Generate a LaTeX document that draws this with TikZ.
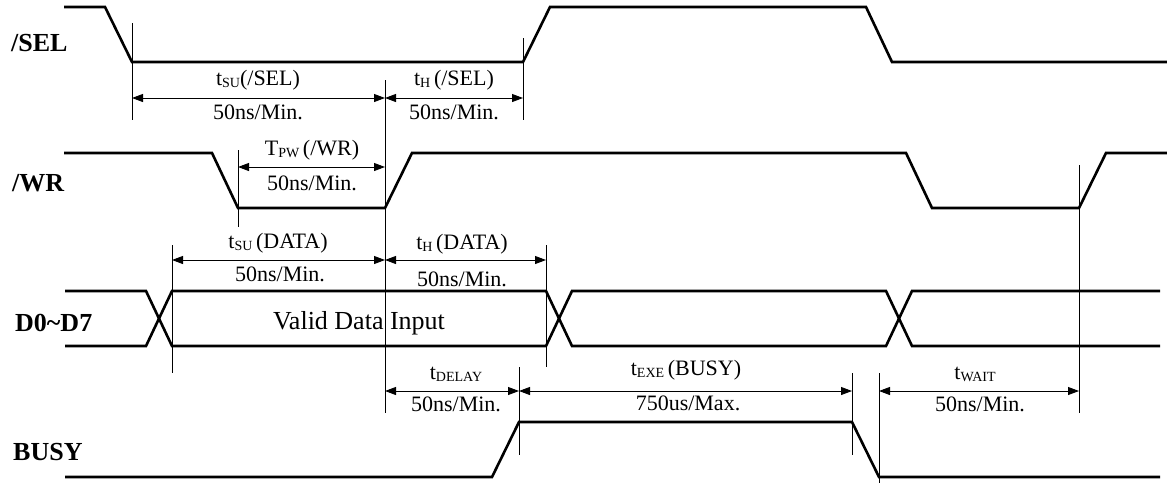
\documentclass[tikz,border=0pt]{standalone}
\usepackage{fontspec}
\setmainfont{Liberation Serif}
\usetikzlibrary{arrows.meta}
\newcommand{\lsub}[1]{\raisebox{-2pt}{\fontsize{14}{14}\selectfont #1}}
\begin{document}
\begin{tikzpicture}[x=1pt,y=-1pt,
  sig/.style={line width=2.6pt, line join=miter},
  dimline/.style={line width=0.9pt},
  meas/.style={line width=0.9pt, {Triangle[length=11pt,width=8pt]}-{Triangle[length=11pt,width=8pt]}},
  lbl/.style={font=\fontsize{22}{24}\selectfont, inner sep=0pt},
  big/.style={font=\fontsize{26}{28}\selectfont, inner sep=0pt},
  sname/.style={font=\bfseries\fontsize{26}{28}\selectfont, anchor=west, inner sep=0pt}]
\useasboundingbox (0,0) rectangle (1167,483);

% signal names
\node[sname] (nsel)  at (11,43)  {/SEL};
\node[sname] (nwr)   at (12,183) {/WR};
\node[sname] (nd)    at (15,323) {D0\textasciitilde D7};
\node[sname] (nbusy) at (13,452) {BUSY};

% waveforms
\draw[sig] (64,7) -- (105,7) -- (132,62) -- (523,62) -- (550,7) -- (866,7) -- (892,62) -- (1167,62);
\draw[sig] (64,153) -- (212,153) -- (238,208) -- (385,208) -- (412,153) -- (906,153) -- (932,208) -- (1079,208) -- (1106,153) -- (1167,153);
\draw[sig] (65,291) -- (146,291) -- (172,346) -- (546,346) -- (572,291) -- (886,291) -- (912,346) -- (1160,346);
\draw[sig] (65,346) -- (146,346) -- (172,291) -- (546,291) -- (572,346) -- (886,346) -- (912,291) -- (1160,291);
\draw[sig] (65,477) -- (492,477) -- (519,422) -- (852,422) -- (879,477) -- (1160,477);

% reference coordinates
\coordinate (v132t) at (132,23);  \coordinate (v132b) at (132,120);
\coordinate (v523t) at (523,38);  \coordinate (v523b) at (523,120);
\coordinate (v385t) at (385,80);  \coordinate (v385b) at (385,413);
\coordinate (v238t) at (238,150); \coordinate (v238b) at (238,227);
\coordinate (v172t) at (172,245); \coordinate (v172b) at (172,373);
\coordinate (v546t) at (546,245); \coordinate (v546b) at (546,367);
\coordinate (v519t) at (519,367); \coordinate (v519b) at (519,455);
\coordinate (v852t) at (852,373); \coordinate (v852b) at (852,455);
\coordinate (v879t) at (879,373); \coordinate (v879b) at (879,483);
\coordinate (v1079t) at (1079,165); \coordinate (v1079b) at (1079,413);

\draw[dimline] (v132t) -- (v132b);
\draw[dimline] (v523t) -- (v523b);
\draw[dimline] (v385t) -- (v385b);
\draw[dimline] (v238t) -- (v238b);
\draw[dimline] (v172t) -- (v172b);
\draw[dimline] (v546t) -- (v546b);
\draw[dimline] (v519t) -- (v519b);
\draw[dimline] (v852t) -- (v852b);
\draw[dimline] (v879t) -- (v879b);
\draw[dimline] (v1079t) -- (v1079b);

% measurement arrows
\draw[meas] (132,98) -- (385,98);
\draw[meas] (385,98) -- (523,98);
\draw[meas] (238,167) -- (385,167);
\draw[meas] (172,260) -- (385,260);
\draw[meas] (385,260) -- (546,260);
\draw[meas] (385,391) -- (519,391);
\draw[meas] (519,391) -- (852,391);
\draw[meas] (879,391) -- (1079,391);

% labels
\node[lbl] (l1)  at (258,80)  {t\lsub{SU}(/SEL)};
\node[lbl] (l1b) at (258,112) {50ns/Min.};
\node[lbl] (l2)  at (454,80)  {t\lsub{H}\,(/SEL)};
\node[lbl] (l2b) at (454,112) {50ns/Min.};
\node[lbl] (l3)  at (312,150) {T\lsub{PW}\,(/WR)};
\node[lbl] (l3b) at (312,183) {50ns/Min.};
\node[lbl] (l4)  at (278,243) {t\lsub{SU}\,(DATA)};
\node[lbl] (l4b) at (280,274) {50ns/Min.};
\node[lbl] (l5)  at (462,244) {t\lsub{H}\,(DATA)};
\node[lbl] (l5b) at (462,279) {50ns/Min.};
\node[big] (vd)  at (359,323) {Valid Data Input};
\node[lbl] (l6)  at (456,374) {t\lsub{DELAY}};
\node[lbl] (l6b) at (456,404) {50ns/Min.};
\node[lbl] (l7)  at (686,370) {t\lsub{EXE}\,(BUSY)};
\node[lbl] (l7b) at (688,403) {750us/Max.};
\node[lbl] (l8)  at (975,374) {t\lsub{WAIT}};
\node[lbl] (l8b) at (980,404) {50ns/Min.};
\end{tikzpicture}
\end{document}
